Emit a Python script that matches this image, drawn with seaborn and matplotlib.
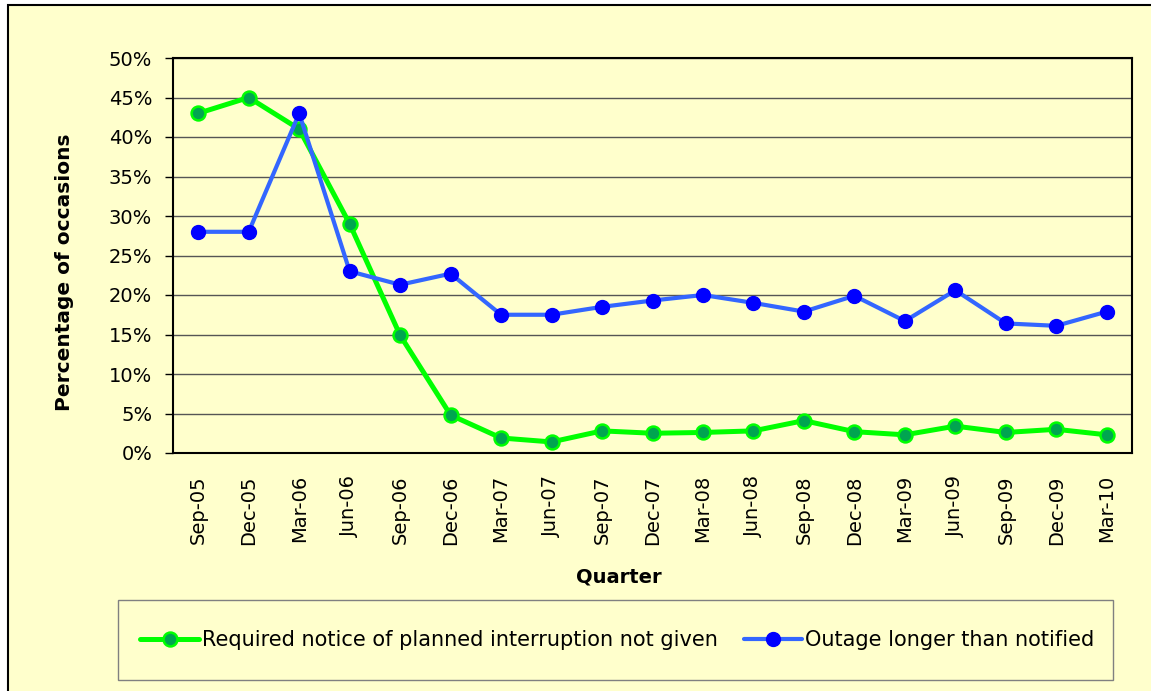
import matplotlib
matplotlib.use("Agg")
import matplotlib.pyplot as plt
import seaborn as sns
import pandas as pd
import numpy as np
from matplotlib.patches import Rectangle
from matplotlib.ticker import FuncFormatter, MultipleLocator

quarters = ["Sep-05", "Dec-05", "Mar-06", "Jun-06", "Sep-06", "Dec-06", "Mar-07",
            "Jun-07", "Sep-07", "Dec-07", "Mar-08", "Jun-08", "Sep-08", "Dec-08",
            "Mar-09", "Jun-09", "Sep-09", "Dec-09", "Mar-10"]
notice_not_given = [43.0, 45.0, 41.0, 29.0, 14.9, 4.8, 1.9, 1.4, 2.8, 2.5, 2.6,
                    2.8, 4.1, 2.7, 2.3, 3.4, 2.6, 3.0, 2.3]
outage_longer = [28.0, 28.0, 43.0, 23.0, 21.3, 22.7, 17.5, 17.5, 18.5, 19.3, 20.0,
                 19.0, 17.9, 19.9, 16.7, 20.6, 16.4, 16.1, 17.9]
series_names = ["Required notice of planned interruption not given",
                "Outage longer than notified"]

df = pd.DataFrame({
    "idx": list(range(len(quarters))) * 2,
    "value": notice_not_given + outage_longer,
    "series": [series_names[0]] * len(quarters) + [series_names[1]] * len(quarters),
})

sns.set_style("white")
plt.rcParams['font.family'] = ['DejaVu Sans']
plt.rcParams['text.color'] = 'black'
plt.rcParams['xtick.color'] = 'black'
plt.rcParams['ytick.color'] = 'black'
plt.rcParams['axes.labelcolor'] = 'black'

W, H = 1151, 691
fig = plt.figure(figsize=(W / 100, H / 100), dpi=100, facecolor="white")
bg = "#FFFFCC"
fig.patches.append(Rectangle((8 / W, -0.1), 1.2, 1 - 5 / H + 0.1, transform=fig.transFigure,
                             facecolor=bg, edgecolor="black", linewidth=1.5, zorder=-10))

ax = fig.add_axes([173 / W, 1 - 453 / H, (1132 - 173) / W, (453 - 58) / H])
ax.set_facecolor(bg)

styles = {
    series_names[0]: dict(color="#00FF00", lw=3.6, mfc="#00A550", mec="#00FF00", mew=1.8, ms=10),
    series_names[1]: dict(color="#3366FF", lw=3.0, mfc="#0000FF", mec="#0000FF", mew=1.0, ms=10),
}
for name in series_names:
    st = styles[name]
    sns.lineplot(data=df[df["series"] == name], x="idx", y="value", ax=ax,
                 color=st["color"], linewidth=st["lw"], marker="o",
                 markerfacecolor=st["mfc"], markeredgecolor=st["mec"],
                 markeredgewidth=st["mew"], markersize=st["ms"], label=name,
                 legend=False, zorder=3)

ax.set_xlim(-0.5, len(quarters) - 0.5)
ax.set_ylim(0, 50)
ax.yaxis.set_major_locator(MultipleLocator(5))
ax.yaxis.set_major_formatter(FuncFormatter(lambda v, p: f"{v:.0f}%"))
ax.set_xticks(range(len(quarters)))
ax.set_xticklabels(quarters, rotation=90, fontsize=14)
ax.tick_params(axis="y", labelsize=14, length=6, width=1, direction="out", pad=9, left=True)
ax.tick_params(axis="x", length=0, pad=16)
ax.grid(axis="y", color="#555555", linewidth=1.0, zorder=1)
ax.set_axisbelow(True)
for s in ax.spines.values():
    s.set_visible(True)
    s.set_color("black")
    s.set_linewidth(1.5)
ax.set_xlabel("")
ax.set_ylabel("")

fig.text(619 / W, 1 - 577 / H, "Quarter", fontsize=14, fontweight="bold",
         ha="center", va="center")
fig.text(65 / W, 1 - 272 / H, "Percentage of occasions", fontsize=14.5, fontweight="bold",
         ha="center", va="center", rotation=90)

# legend box
fig.patches.append(Rectangle((118 / W, 1 - 680 / H), (1113 - 118) / W, (680 - 600) / H,
                             transform=fig.transFigure, facecolor=bg,
                             edgecolor="#808080", linewidth=1.0, zorder=-5))
handles, labels = ax.get_legend_handles_labels()
leg = fig.legend(handles, labels, loc="center", bbox_to_anchor=(617.5 / W, 1 - 640 / H),
                 ncol=2, frameon=False, fontsize=15, handlelength=2.8,
                 handletextpad=0.15, columnspacing=1.25, borderpad=0)

fig.savefig("out.png", dpi=100, facecolor=fig.get_facecolor())
